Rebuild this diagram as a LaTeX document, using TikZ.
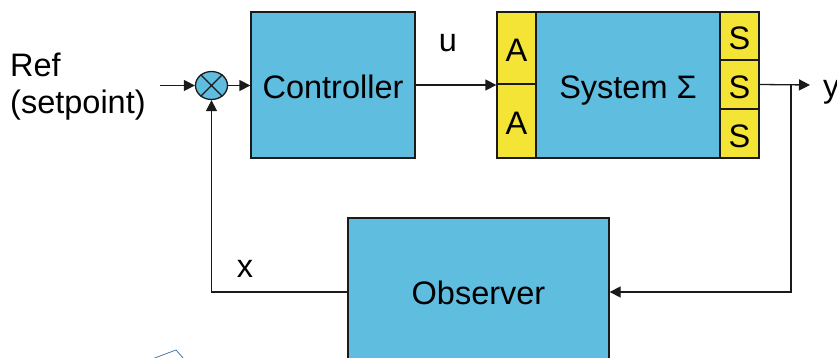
\documentclass[tikz,border=0pt]{standalone}
\usepackage{fontspec}
\setmainfont{Liberation Sans}
\usetikzlibrary{arrows.meta,shapes.geometric}
\definecolor{boxblue}{HTML}{5FBDE0}
\definecolor{portyellow}{HTML}{F4E436}
\definecolor{edge}{HTML}{1A1A1A}
\definecolor{sketchblue}{HTML}{4A78A0}
\begin{document}
\begin{tikzpicture}[x=1pt,y=-1pt,
  blk/.style={draw=edge, line width=1.3pt, fill=boxblue, rectangle, inner sep=0pt},
  port/.style={draw=edge, line width=1.3pt, fill=portyellow, rectangle, inner sep=0pt},
  big/.style={font=\fontsize{32.5}{38}\selectfont},
  boxtext/.style={big, text height=28pt, text depth=0pt},
  lbl/.style={big, inner sep=0pt},
  conn/.style={draw=edge, line width=1.3pt, -{Triangle[length=11pt,width=11pt]}},
  wire/.style={draw=edge, line width=1.3pt}]
\useasboundingbox (0,0) rectangle (837,358);
\clip (0,0) rectangle (837,358);

% blocks
\node[blk, boxtext, minimum width=164pt, minimum height=146pt] (ctrl) at (333,85) {Controller};
\node[blk, boxtext, minimum width=184pt, minimum height=146pt] (sys) at (628,85) {System Σ};
\node[port, boxtext, minimum width=39pt, minimum height=72pt] (a1) at (516.5,48) {A};
\node[port, boxtext, minimum width=39pt, minimum height=74pt] (a2) at (516.5,121) {A};
\node[port, boxtext, minimum width=39pt, minimum height=48pt] (s1) at (739.5,36) {S};
\node[port, boxtext, minimum width=39pt, minimum height=49pt] (s2) at (739.5,84.5) {S};
\node[port, boxtext, minimum width=39pt, minimum height=49pt] (s3) at (739.5,133.5) {S};
\node[blk, minimum width=261pt, minimum height=148pt] (obs) at (478.5,292) {};
\node[lbl, boxtext] (obstext) at (478.5,290) {Observer};

% summing junction
\node[draw=edge, line width=1.3pt, fill=boxblue, ellipse, minimum width=32pt, minimum height=28pt, inner sep=0pt] (sum) at (211.5,85.5) {};
\draw[edge, line width=1.2pt] (sum.45) -- (sum.225) (sum.135) -- (sum.315);

% labels
\node[lbl, anchor=base west] (ref1) at (10,77) {Ref};
\node[lbl, anchor=base west] (ref2) at (10,114) {(setpoint)};
\node[lbl, anchor=base] (ulbl) at (448,52) {u};
\node[lbl, anchor=base west] (ylbl) at (823,98) {y};
\node[lbl, anchor=base] (xlbl) at (245,277) {x};

% connectors
\coordinate (refin) at (160,85.5);
\coordinate (yout) at (810,85);
\coordinate (branch) at (791,85);
\draw[conn] (refin) -- (sum.west);
\draw[conn] (sum.east) -- (sum.east -| ctrl.west);
\draw[conn] (ctrl.east |- 0,85) -- (a1.west |- 0,85);
\draw[conn] (s2.east) -- (yout);
\draw[conn] (branch) |- (obs.east);
\draw[conn] (obs.west) -| (sum.south);

% partly visible sketch outline in the lower left
\draw[sketchblue, line width=0.8pt] (152,359) -- (176,350) -- (184,359);
\end{tikzpicture}
\end{document}
